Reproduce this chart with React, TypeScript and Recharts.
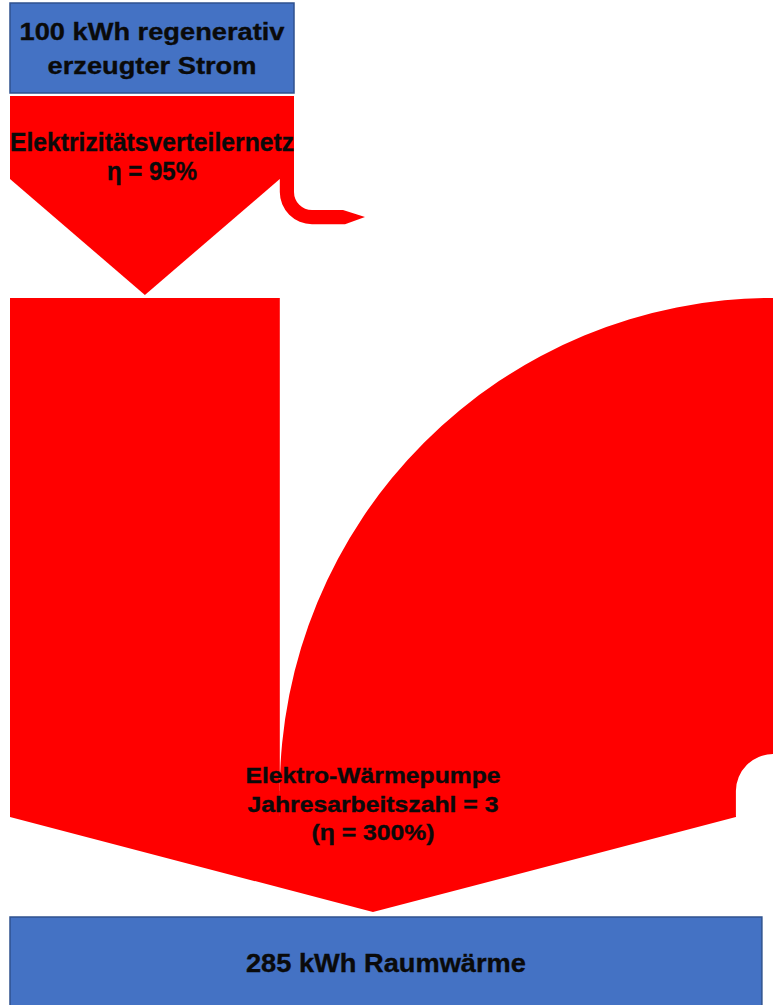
import { ComposedChart, XAxis, YAxis, ReferenceArea } from 'recharts'

// energy flows in kWh
const FLOW_KEYS = ['strom', 'verlust', 'netzStrom', 'umweltwaerme', 'raumwaerme']
const FLOW_KWH = [100, 5, 95, 190, 285]

const SOURCE_LINES = ['100 kWh regenerativ', 'erzeugter Strom']
const GRID_LINES = ['Elektrizitätsverteilernetz', 'η = 95%']
const PUMP_LINES = ['Elektro-Wärmepumpe', 'Jahresarbeitszahl = 3', '(η = 300%)']
const SINK_LINES = ['285 kWh Raumwärme']

const flow: Record<string, number> = Object.fromEntries(FLOW_KEYS.map((k, i) => [k, FLOW_KWH[i]]))
const tableData = FLOW_KEYS.map((k, i) => ({ name: k, kwh: FLOW_KWH[i] }))

const W = 773
const H = 1005
const MARGIN = { top: 0, right: 0, bottom: 0, left: 10 }
const PLOT_W = W - MARGIN.left - MARGIN.right

const COLORS = {
  flow: '#ff0000',
  node: '#4472c4',
  nodeStroke: '#2f528f',
  text: '#0a0a0a',
}
const FONT = "'Liberation Sans', Arial, sans-serif"

// px per kWh for the electric part and for the heat part (diagram is not to one scale)
const ELEC_PX = 2.84
const HEAT_PX = 2.547
const elecDomain = [0, PLOT_W / ELEC_PX]
const heatDomain = [0, PLOT_W / HEAT_PX]
// ambient heat band sits between the pump power column and the heat output edge
const ambStart = flow.netzStrom * ELEC_PX
const AMB_PX = (flow.raumwaerme * HEAT_PX - ambStart) / flow.umweltwaerme
const ambDomain = [flow.netzStrom - ambStart / AMB_PX, flow.netzStrom + (PLOT_W - ambStart) / AMB_PX]

// vertical layout (y axis units)
const ROW = {
  sourceTop: 3,
  sourceBottom: 93,
  gridTop: 96,
  gridShoulder: 179,
  lossBend: 192,
  gridTip: 295,
  pumpTop: 298,
  pumpShoulder: 817,
  pumpTip: 912,
  sinkTop: 917,
  sinkBottom: 1012,
}

const LOSS_RI = 18
const LOSS_RUN = 31
const LOSS_TIP = 22
const AMB_RI = 37
const SINK_PAD = 26

type RectProps = { x: number; y: number; width: number; height: number }

const Block = (p: RectProps) => (
  <rect x={p.x} y={p.y} width={p.width} height={p.height} fill={COLORS.flow} />
)

const Head = (p: RectProps) => {
  const { x, y, width: w, height: h } = p
  return <path d={`M${x},${y - 1}L${x + w},${y - 1}L${x + w},${y}L${x + w / 2},${y + h}L${x},${y}Z`} fill={COLORS.flow} />
}

const LossPipe = (p: RectProps) => {
  const { x, y, width: w, height: h } = p
  const bend = y + h
  const cx = x + w + LOSS_RI
  const ro = LOSS_RI + w
  const top = bend + LOSS_RI
  const bottom = bend + ro
  const end = cx + LOSS_RUN
  const d = [
    `M${x},${y - 1}`,
    `L${x + w},${y - 1}`,
    `L${x + w},${bend}`,
    `A${LOSS_RI},${LOSS_RI} 0 0 0 ${cx},${top}`,
    `L${end},${top}`,
    `L${end + LOSS_TIP},${(top + bottom) / 2}`,
    `L${end + 2},${bottom}`,
    `L${cx},${bottom}`,
    `A${ro},${ro} 0 0 1 ${x},${bend}`,
    'Z',
  ].join(' ')
  return <path d={d} fill={COLORS.flow} />
}

const AmbientBand = (p: RectProps) => {
  const { x, y, width: w, height: h } = p
  const bottom = y + h
  const cx = x + w + AMB_RI
  const ro = w + AMB_RI
  const cy = y + ro
  const d = [
    `M${x - 0.5},${bottom}`,
    `L${x - 0.5},${cy}`,
    `L${x},${cy}`,
    `A${ro},${ro} 0 0 1 ${cx},${y}`,
    `L${cx + 2},${y}`,
    `L${cx + 2},${cy - AMB_RI}`,
    `L${cx},${cy - AMB_RI}`,
    `A${AMB_RI},${AMB_RI} 0 0 0 ${x + w},${cy}`,
    `L${x + w},${bottom}`,
    'Z',
  ].join(' ')
  return <path d={d} fill={COLORS.flow} />
}

const NodeBox = (pad: number) => (p: RectProps) => (
  <rect
    x={p.x}
    y={p.y}
    width={p.width + pad}
    height={p.height}
    fill={COLORS.node}
    stroke={COLORS.nodeStroke}
    strokeWidth={1.5}
  />
)

const Label = (lines: string[], size: number, lengths: number[], offsets: number[], pad = 0) => (p: RectProps) => {
  const cx = p.x + (p.width + pad) / 2
  return (
    <g>
      {lines.map((line, i) => (
        <text
          key={line}
          x={cx}
          y={p.y + offsets[i]}
          textAnchor="middle"
          fontFamily={FONT}
          fontWeight="bold"
          fontSize={size}
          textLength={lengths[i]}
          lengthAdjust="spacingAndGlyphs"
          fill={COLORS.text}
          stroke={COLORS.text}
          strokeWidth={0.35}
        >
          {line}
        </text>
      ))}
    </g>
  )
}

export default function App() {
  return (
    <div style={{ width: W, height: H }}>
      <style>{'body{margin:0}'}</style>
      <ComposedChart width={W} height={H} data={tableData} margin={MARGIN}>
        <XAxis xAxisId="elec" dataKey="kwh" type="number" domain={elecDomain} allowDataOverflow hide />
        <XAxis xAxisId="amb" dataKey="kwh" type="number" domain={ambDomain} allowDataOverflow hide />
        <XAxis xAxisId="heat" dataKey="kwh" type="number" domain={heatDomain} allowDataOverflow hide />
        <YAxis type="number" domain={[0, H]} allowDataOverflow reversed hide />

        {/* source */}
        <ReferenceArea xAxisId="elec" x1={0} x2={flow.strom} y1={ROW.sourceTop} y2={ROW.sourceBottom} ifOverflow="visible" shape={NodeBox(0)} />
        <ReferenceArea
          xAxisId="elec" x1={0} x2={flow.strom} y1={ROW.sourceTop} y2={ROW.sourceBottom} ifOverflow="visible"
          shape={Label(SOURCE_LINES, 24, [265, 209], [37, 71])}
        />

        {/* grid */}
        <ReferenceArea xAxisId="elec" x1={0} x2={flow.strom} y1={ROW.gridTop} y2={ROW.gridShoulder} ifOverflow="visible" shape={Block} />
        <ReferenceArea xAxisId="elec" x1={0} x2={flow.netzStrom} y1={ROW.gridShoulder} y2={ROW.gridTip} ifOverflow="visible" shape={Head} />
        <ReferenceArea xAxisId="elec" x1={flow.netzStrom} x2={flow.strom} y1={ROW.gridShoulder} y2={ROW.lossBend} ifOverflow="visible" shape={LossPipe} />

        {/* heat pump */}
        <ReferenceArea xAxisId="elec" x1={0} x2={flow.netzStrom} y1={ROW.pumpTop} y2={ROW.pumpShoulder} ifOverflow="visible" shape={Block} />
        <ReferenceArea xAxisId="amb" x1={flow.netzStrom} x2={flow.netzStrom + flow.umweltwaerme} y1={ROW.pumpTop} y2={ROW.pumpShoulder} ifOverflow="visible" shape={AmbientBand} />
        <ReferenceArea xAxisId="heat" x1={0} x2={flow.raumwaerme} y1={ROW.pumpShoulder} y2={ROW.pumpTip} ifOverflow="visible" shape={Head} />

        {/* sink */}
        <ReferenceArea xAxisId="heat" x1={0} x2={flow.raumwaerme} y1={ROW.sinkTop} y2={ROW.sinkBottom} ifOverflow="visible" shape={NodeBox(SINK_PAD)} />
        <ReferenceArea
          xAxisId="heat" x1={0} x2={flow.raumwaerme} y1={ROW.sinkTop} y2={ROW.sinkBottom} ifOverflow="visible"
          shape={Label(SINK_LINES, 25, [280], [55], SINK_PAD)}
        />

        {/* labels on the flows */}
        <ReferenceArea
          xAxisId="elec" x1={0} x2={flow.strom} y1={ROW.gridTop} y2={ROW.gridShoulder} ifOverflow="visible"
          shape={Label(GRID_LINES, 25, [284, 90], [55, 84])}
        />
        <ReferenceArea
          xAxisId="heat" x1={0} x2={flow.raumwaerme} y1={ROW.pumpShoulder} y2={ROW.pumpTip} ifOverflow="visible"
          shape={Label(PUMP_LINES, 22, [255, 251, 123], [-34, -5, 23])}
        />
      </ComposedChart>
    </div>
  )
}
